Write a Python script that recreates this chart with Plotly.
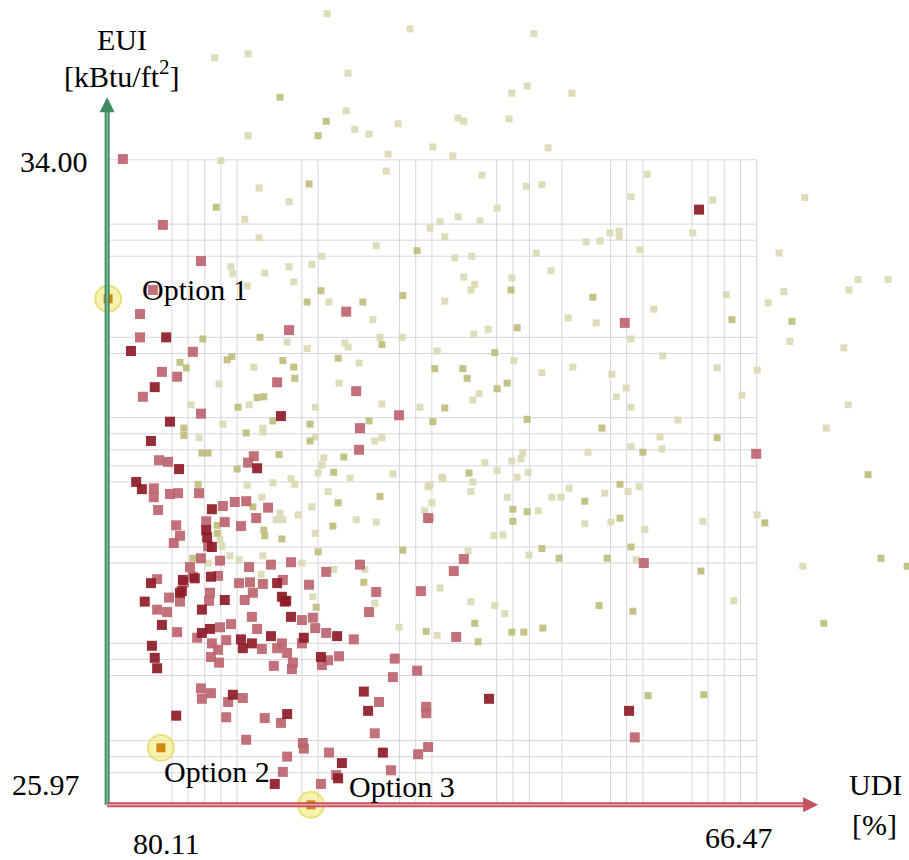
import plotly.graph_objects as go

# ---------------- data (UDI [%], EUI [kBtu/ft2]) ----------------
red_dark_udi = [67.68, 78.87, 79.61, 79.11, 76.46, 78.79, 79.19, 78.60, 76.96, 79.50,
                79.38, 77.91, 78.03, 78.01, 77.91, 79.19, 78.52, 78.54, 78.27, 77.93,
                76.54, 79.32, 78.58, 78.12, 77.64, 76.44, 76.35, 78.96, 78.12, 77.95,
                76.25, 77.30, 77.26, 77.07, 76.67, 75.98, 75.28, 79.17, 79.11, 79.06,
                75.62, 77.47, 78.66, 76.33, 74.72, 74.63, 72.09, 69.15, 74.32, 75.18,
                76.59, 75.26, 76.38]
red_dark_eui = [33.38, 31.79, 31.62, 31.17, 30.81, 30.74, 30.50, 30.15, 30.16, 29.99,
                29.90, 29.65, 29.39, 29.30, 29.18, 28.73, 28.77, 28.63, 28.79, 28.81,
                28.73, 28.50, 28.61, 28.40, 28.52, 28.56, 28.51, 28.21, 28.11, 28.16,
                28.31, 28.03, 27.92, 27.98, 28.07, 28.05, 28.07, 27.95, 27.80, 27.67,
                27.81, 27.34, 27.08, 27.10, 27.38, 27.14, 27.29, 27.14, 26.62, 26.49,
                26.23, 26.30, 28.50]

red_light_udi = [79.78, 78.94, 78.14, 79.15, 79.42, 79.42, 78.31, 76.29, 75.09, 78.96,
                 78.64, 79.36, 76.54, 74.88, 78.14, 73.98, 74.80, 69.24, 66.48, 74.82,
                 79.02, 78.83, 77.03, 77.15, 79.13, 79.13, 78.79, 78.62, 78.18, 79.04,
                 78.66, 78.58, 78.71, 77.68, 77.43, 77.19, 76.73, 78.03, 77.99, 77.64,
                 77.30, 76.98, 73.37, 72.62, 72.83, 68.84, 78.14, 78.37, 78.31, 78.50,
                 77.74, 77.13, 76.67, 76.25, 75.51, 74.80, 77.78, 77.34, 77.11, 76.84,
                 76.42, 75.87, 79.06, 78.85, 78.81, 78.58, 77.95, 77.97, 77.22, 77.05,
                 74.46, 74.61, 73.52, 78.64, 78.22, 77.74, 77.51, 77.07, 76.96, 76.02,
                 75.79, 75.74, 77.91, 77.78, 77.61, 76.86, 76.54, 76.44, 76.33, 76.21,
                 76.02, 75.51, 74.93, 74.07, 72.78, 77.93, 77.76, 76.61, 76.23, 75.60,
                 75.47, 75.24, 74.11, 73.60, 78.14, 77.93, 78.12, 77.57, 77.26, 77.61,
                 76.80, 76.46, 74.40, 73.41, 73.41, 77.19, 76.00, 75.98, 74.49, 73.37,
                 73.58, 76.33, 75.45, 74.15, 76.42, 75.30, 75.62, 69.03, 79.06]
red_light_eui = [34.01, 33.19, 32.74, 32.38, 32.08, 31.79, 31.61, 31.88, 32.11, 31.36,
                 31.30, 31.05, 31.23, 31.12, 30.84, 30.82, 30.66, 31.97, 30.34, 30.39,
                 30.26, 30.24, 30.31, 30.23, 29.91, 29.80, 29.84, 29.85, 29.85, 29.64,
                 29.45, 29.32, 29.23, 29.69, 29.74, 29.75, 29.67, 29.50, 29.19, 29.49,
                 29.44, 29.54, 29.54, 29.03, 28.88, 28.98, 29.04, 28.93, 28.81, 28.74,
                 29.01, 28.93, 28.96, 28.99, 28.87, 28.96, 28.82, 28.73, 28.74, 28.72,
                 28.77, 28.71, 28.40, 28.37, 28.55, 28.50, 28.61, 28.51, 28.52, 28.61,
                 28.62, 28.37, 28.63, 28.12, 28.05, 28.18, 28.22, 28.31, 28.16, 28.27,
                 28.30, 28.17, 27.98, 27.90, 28.02, 27.91, 27.92, 27.98, 27.86, 27.74,
                 27.98, 28.11, 28.03, 27.79, 28.06, 27.81, 27.74, 27.70, 27.66, 27.71,
                 27.77, 27.82, 27.56, 27.64, 27.42, 27.36, 27.29, 27.25, 27.30, 27.06,
                 27.05, 26.99, 27.25, 27.19, 27.11, 26.78, 26.74, 26.67, 26.86, 26.69,
                 26.60, 26.57, 26.62, 26.40, 26.38, 26.34, 26.23, 26.81, 28.78]

olive_mid_udi = [76.48, 75.51, 75.68, 75.87, 77.82, 73.60, 75.62, 75.91, 74.74, 73.90,
                 78.10, 76.90, 74.34, 75.26, 78.58, 78.45, 77.59, 77.49, 76.42, 76.19,
                 76.17, 73.23, 76.96, 76.82, 77.36, 73.02, 74.61, 73.27, 75.85, 76.63,
                 78.50, 69.91, 65.73, 66.99, 71.50, 71.97, 72.64, 72.55, 71.92, 71.71,
                 71.29, 69.72, 67.30, 68.86, 72.51, 64.13, 69.34, 70.08, 71.59, 71.59,
                 71.29, 69.34, 66.30, 70.98, 70.62, 69.61, 69.11, 67.64, 63.86, 63.31,
                 69.78, 69.07, 65.06, 72.39, 72.32, 71.61, 71.36, 70.96, 68.75, 67.58,
                 78.50, 77.19, 78.12, 77.99, 77.38, 76.50, 75.35, 75.14, 78.20, 74.38,
                 75.26, 75.37, 77.80, 77.80, 76.82, 76.80, 76.44, 73.90, 75.68, 78.31,
                 75.72, 74.72, 73.41, 75.85, 71.63, 77.05]
olive_mid_eui = [34.78, 34.48, 34.30, 33.70, 33.41, 32.87, 32.37, 32.23, 32.23, 32.31,
                 31.77, 31.79, 31.70, 31.53, 31.48, 31.41, 31.51, 31.55, 31.50, 31.42,
                 31.28, 31.40, 31.04, 31.05, 30.92, 30.91, 30.75, 30.74, 30.71, 30.75,
                 30.66, 32.29, 31.99, 32.01, 31.91, 31.60, 31.40, 31.28, 31.15, 31.22,
                 30.77, 30.66, 30.54, 30.36, 30.10, 30.08, 29.96, 29.75, 29.65, 29.50,
                 29.62, 29.54, 29.48, 29.16, 29.04, 29.04, 29.18, 28.88, 29.04, 28.94,
                 28.45, 28.38, 28.23, 28.23, 28.00, 28.12, 28.12, 28.17, 27.33, 27.34,
                 30.57, 30.60, 30.35, 30.35, 30.15, 30.33, 30.11, 30.30, 29.96, 29.81,
                 29.73, 29.44, 29.45, 29.35, 29.39, 29.32, 29.28, 29.14, 29.12, 29.04,
                 28.43, 28.74, 28.13, 30.50, 32.38, 29.68]

olive_pale_udi = [75.49, 73.75, 77.85, 77.15, 75.05, 75.09, 74.00, 77.15, 74.91, 74.61,
                  73.27, 74.21, 72.85, 77.72, 74.25, 76.92, 76.29, 77.22, 76.92, 74.46,
                  73.12, 73.33, 73.02, 75.60, 75.81, 76.29, 76.80, 77.51, 77.47, 77.17,
                  76.19, 75.45, 73.02, 74.53, 76.33, 75.91, 75.12, 75.05, 74.38, 73.92,
                  73.18, 74.82, 77.03, 77.76, 75.24, 78.35, 77.13, 75.74, 74.34, 73.54,
                  77.68, 76.84, 71.15, 71.61, 71.29, 70.35, 72.74, 72.62, 71.67, 70.85,
                  72.24, 68.77, 71.31, 70.98, 69.11, 71.92, 67.39, 65.46, 72.74, 72.28,
                  69.55, 69.36, 69.36, 70.05, 69.76, 67.81, 68.92, 71.10, 72.81, 72.45,
                  66.00, 70.79, 72.62, 72.39, 72.47, 71.61, 64.34, 63.71, 64.53, 65.90,
                  67.11, 66.23, 68.63, 70.43, 69.84, 72.11, 72.41, 69.11, 65.77, 68.44,
                  71.57, 70.33, 70.98, 69.51, 67.30, 66.46, 64.64, 72.30, 72.43, 69.21,
                  69.42, 69.11, 66.78, 64.55, 68.12, 65.01, 68.50, 70.01, 69.11, 68.46,
                  71.38, 71.42, 71.61, 72.18, 72.43, 72.47, 71.92, 71.50, 71.27, 70.41,
                  70.77, 70.58, 71.71, 69.17, 68.94, 69.66, 71.06, 70.08, 69.53, 67.60,
                  66.46, 68.82, 71.99, 71.80, 72.53, 71.25, 69.00, 65.50, 72.47, 71.97,
                  71.76, 66.95, 78.18, 76.84, 75.74, 74.49, 74.34, 75.56, 75.60, 75.68,
                  75.01, 74.11, 73.06, 77.17, 76.63, 76.25, 76.17, 75.47, 76.86, 76.48,
                  76.56, 76.42, 76.10, 75.81, 74.88, 74.46, 77.74, 77.70, 75.74, 77.53,
                  77.34, 76.84, 77.99, 76.02, 75.35, 74.70, 76.88, 75.79, 74.49, 73.12,
                  73.98, 73.18, 73.44, 73.33, 73.31, 73.29, 73.08, 73.37]
olive_pale_eui = [35.82, 35.63, 35.27, 35.32, 35.08, 34.61, 34.45, 34.30, 34.38, 34.32,
                  34.16, 34.07, 34.05, 33.99, 33.86, 33.65, 33.48, 33.26, 33.03, 32.93,
                  33.23, 33.15, 33.04, 32.80, 32.70, 32.67, 32.59, 32.67, 32.58, 32.43,
                  32.48, 32.23, 32.24, 32.01, 31.73, 31.65, 31.72, 31.67, 31.79, 31.79,
                  31.62, 31.47, 31.42, 31.21, 31.22, 30.95, 30.95, 30.92, 30.96, 30.92,
                  30.71, 30.66, 35.57, 34.83, 34.92, 34.83, 34.52, 34.48, 34.51, 34.15,
                  33.81, 33.82, 33.67, 33.69, 33.54, 33.40, 33.50, 33.53, 33.29, 33.24,
                  33.09, 33.11, 33.04, 32.98, 32.99, 33.09, 32.88, 32.84, 32.78, 32.80,
                  32.84, 32.62, 32.54, 32.45, 32.38, 32.53, 32.51, 32.51, 32.38, 32.36,
                  32.32, 32.22, 32.14, 32.03, 31.97, 31.89, 31.83, 31.77, 31.74, 31.56,
                  31.50, 31.42, 31.35, 31.33, 31.41, 31.38, 31.66, 31.09, 31.01, 31.16,
                  31.05, 30.92, 31.07, 30.95, 30.76, 30.66, 30.55, 30.36, 30.43, 30.40,
                  30.35, 30.28, 30.25, 30.23, 29.99, 29.87, 30.13, 30.05, 30.11, 29.91,
                  29.80, 29.80, 29.80, 29.87, 29.93, 29.85, 29.63, 29.47, 29.49, 29.50,
                  29.58, 29.40, 29.32, 29.33, 29.13, 29.08, 29.02, 28.94, 28.50, 28.45,
                  28.35, 28.51, 30.54, 30.61, 30.55, 30.50, 30.54, 30.29, 30.20, 30.10,
                  30.04, 30.09, 30.03, 29.95, 29.98, 30.03, 29.96, 29.87, 29.80, 29.60,
                  29.52, 29.52, 29.58, 29.68, 29.52, 29.49, 29.27, 29.19, 29.35, 29.07,
                  29.02, 29.07, 28.98, 28.98, 28.90, 28.90, 28.84, 28.56, 28.48, 28.67,
                  28.18, 28.08, 29.63, 29.95, 29.54, 29.73, 30.05, 29.93]

option_names = ["Option 1", "Option 2", "Option 3"]
option_udi = [80.09, 78.98, 75.83]
option_eui = [32.27, 26.68, 25.97]

udi_max, udi_min = 80.11, 66.47      # axis end labels
eui_min, eui_max = 25.97, 34.00
grid_udi = [78.75, 78.41, 78.06, 77.72, 77.38, 76.02, 75.68, 73.97, 73.63, 73.29,
            71.93, 71.59, 71.24, 70.56, 69.54, 69.20, 68.86, 67.83, 67.49, 67.15,
            66.81, 66.47]
grid_eui = [34.00, 33.20, 33.00, 32.80, 31.79, 31.59, 30.79, 30.59, 30.39, 30.19,
            29.99, 29.18, 28.98, 27.98, 27.78, 27.58, 26.77, 26.57, 26.37]

for a, b in [(red_dark_udi, red_dark_eui), (red_light_udi, red_light_eui),
             (olive_mid_udi, olive_mid_eui), (olive_pale_udi, olive_pale_eui)]:
    assert len(a) == len(b), (len(a), len(b))

W, H = 909, 860
X_RANGE = [82.36, 63.271]
Y_RANGE = [25.283, 35.99]

fig = go.Figure()

# grid
gx, gy = [], []
for u in grid_udi:
    gx += [u, u, None]
    gy += [eui_min, eui_max, None]
for e in grid_eui:
    gx += [udi_max, udi_min, None]
    gy += [e, e, None]
fig.add_trace(go.Scatter(x=gx, y=gy, mode="lines",
                         line=dict(color="#d6d6de", width=1), hoverinfo="skip"))

def sq(x, y, color, size, opacity):
    fig.add_trace(go.Scatter(x=x, y=y, mode="markers",
                             marker=dict(symbol="square", size=size, color=color,
                                         opacity=opacity, line=dict(width=0)),
                             hoverinfo="skip"))

sq(olive_pale_udi, olive_pale_eui, "#d9d9b4", 7, 0.9)
sq(olive_mid_udi, olive_mid_eui, "#bcbc7a", 7, 0.9)
sq(red_light_udi, red_light_eui, "#bb626d", 10, 0.9)
sq(red_dark_udi, red_dark_eui, "#8e1b28", 10, 0.92)

# axes (tube-like arrows)
tip_eui = 34.78
tip_udi = 65.18
shapes = [
    dict(type="line", xref="x", yref="y", x0=udi_max, x1=udi_max, y0=eui_min, y1=tip_eui - 0.1,
         line=dict(color="#3f8a62", width=5)),
    dict(type="line", xref="x", yref="y", x0=udi_max, x1=udi_max, y0=eui_min, y1=tip_eui - 0.1,
         line=dict(color="#86c3a0", width=1.5)),
    dict(type="line", xref="x", yref="y", x0=udi_max, x1=tip_udi + 0.3, y0=eui_min, y1=eui_min,
         line=dict(color="#c4545f", width=5)),
    dict(type="line", xref="x", yref="y", x0=udi_max, x1=tip_udi + 0.3, y0=eui_min, y1=eui_min,
         line=dict(color="#eaa4ab", width=1.5)),
]
fig.update_layout(shapes=shapes)

annotations = [
    dict(x=udi_max, y=tip_eui, xref="x", yref="y", showarrow=True, text="",
         ax=0, ay=14, arrowhead=2, arrowsize=1.0, arrowwidth=3, arrowcolor="#3f8a62"),
    dict(x=tip_udi, y=eui_min, xref="x", yref="y", showarrow=True, text="",
         ax=-14, ay=0, arrowhead=2, arrowsize=1.0, arrowwidth=3, arrowcolor="#c4545f"),
]

# highlighted options
fig.add_trace(go.Scatter(x=option_udi, y=option_eui, mode="markers",
                         marker=dict(symbol="circle", size=26, color="rgba(240,232,110,0.55)",
                                     line=dict(color="rgba(225,215,90,0.7)", width=2)),
                         hoverinfo="skip"))
fig.add_trace(go.Scatter(x=option_udi, y=option_eui, mode="markers",
                         marker=dict(symbol="square", size=9, color="#d4880e",
                                     line=dict(width=0)),
                         hoverinfo="skip"))

FONT = dict(family="Liberation Serif, Times New Roman, serif", size=30, color="#000000")

def label(text, px, py):
    annotations.append(dict(text=text, x=px / W, y=1 - py / H, xref="paper", yref="paper",
                            xanchor="center", yanchor="middle", showarrow=False, font=FONT))

label("EUI", 122, 40)
label("[kBtu/ft<sup>2</sup>]", 122, 74)
label(f"{eui_max:.2f}", 54, 161)
label(f"{eui_min:.2f}", 46, 784)
label(f"{udi_max:.2f}", 166, 843)
label(f"{udi_min:.2f}", 739, 837)
label("UDI", 875, 784)
label("[%]", 874, 824)
label(option_names[0], 195, 290)
label(option_names[1], 217, 771)
label(option_names[2], 402, 786)

fig.update_layout(
    width=W, height=H,
    margin=dict(l=0, r=0, t=0, b=0),
    paper_bgcolor="white", plot_bgcolor="white",
    showlegend=False,
    xaxis=dict(range=X_RANGE, visible=False, fixedrange=True),
    yaxis=dict(range=Y_RANGE, visible=False, fixedrange=True),
    annotations=annotations,
    hovermode=False,
)

fig.write_html("out.html", config={"displayModeBar": False},
               post_script="document.body.style.margin='0';document.body.style.overflow='hidden';")
